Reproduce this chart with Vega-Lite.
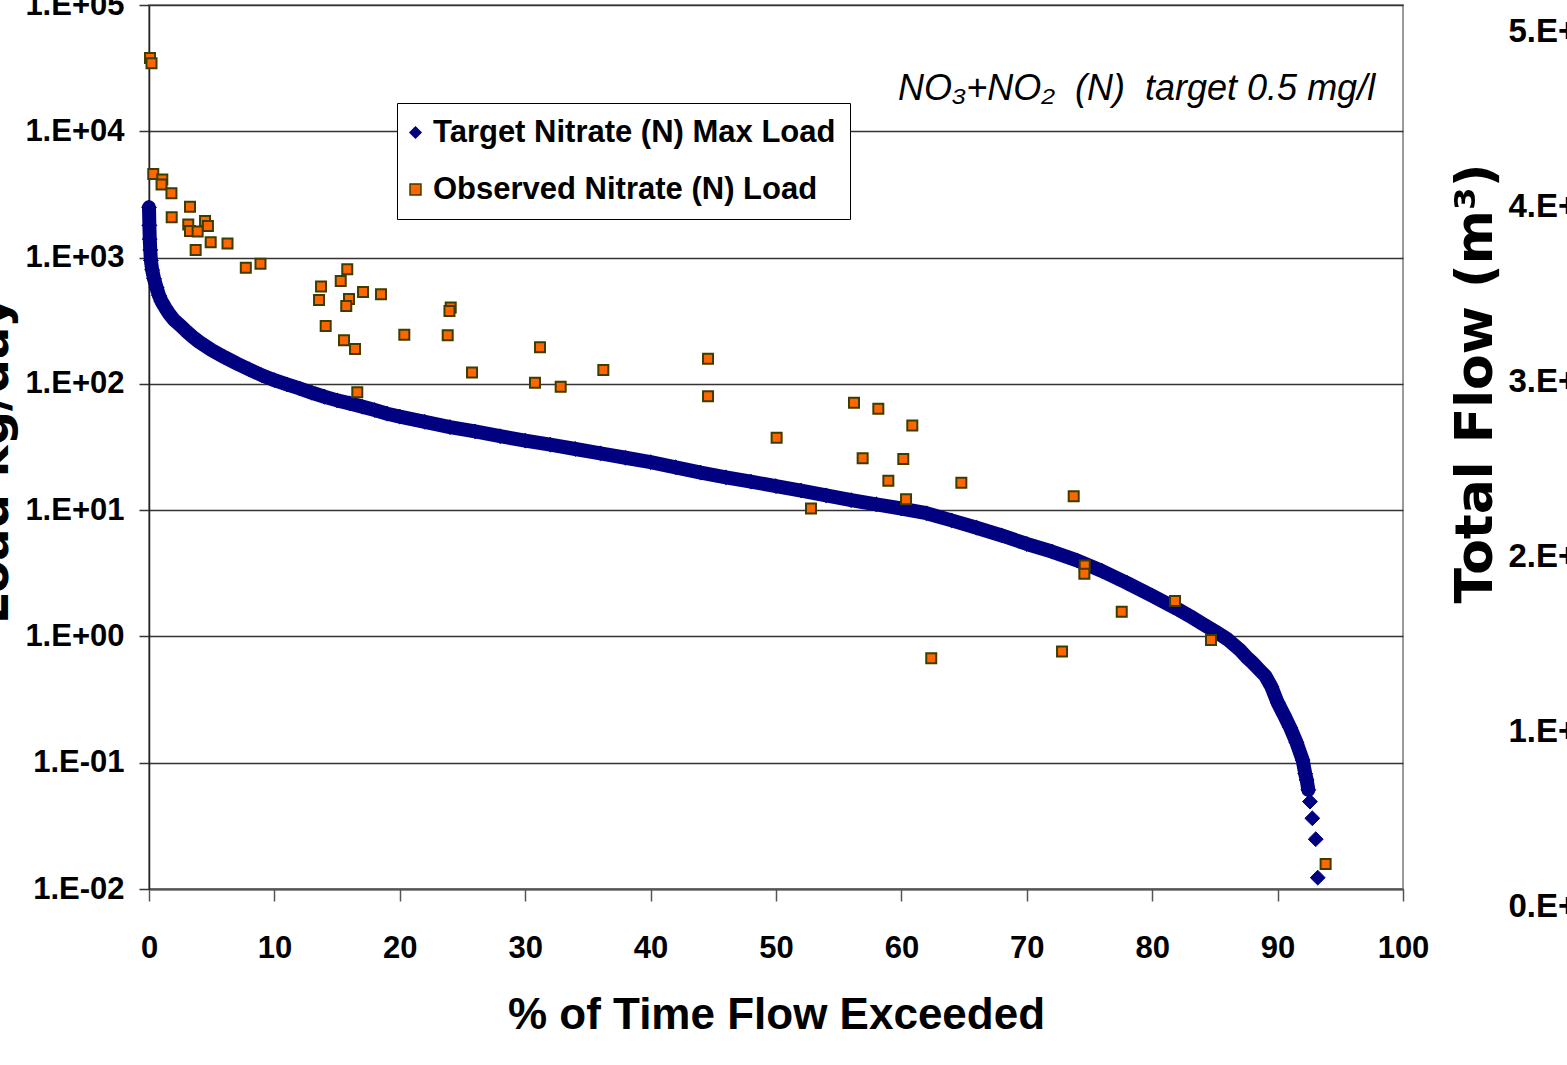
{
  "$schema": "https://vega.github.io/schema/vega-lite/v6.json",
  "width": 1254,
  "height": 884,
  "autosize": {"type": "none"},
  "padding": {"left": 149, "top": 5, "right": 164, "bottom": 176},
  "background": "white",
  "config": {
    "view": {"stroke": "#9a9a9a", "strokeWidth": 2},
    "axis": {"labelFont": "Liberation Sans", "labelFontWeight": "bold", "labelColor": "#000", "titleColor": "#000"}
  },
  "datasets": {
    "target": [
      {"pct": 0.0, "load": 2500, "series": "Target Nitrate (N) Max Load"},
      {"pct": 0.03, "load": 1800, "series": "Target Nitrate (N) Max Load"},
      {"pct": 0.06, "load": 1400, "series": "Target Nitrate (N) Max Load"},
      {"pct": 0.1, "load": 1150, "series": "Target Nitrate (N) Max Load"},
      {"pct": 0.15, "load": 950, "series": "Target Nitrate (N) Max Load"},
      {"pct": 0.25, "load": 800, "series": "Target Nitrate (N) Max Load"},
      {"pct": 0.4, "load": 680, "series": "Target Nitrate (N) Max Load"},
      {"pct": 0.6, "load": 580, "series": "Target Nitrate (N) Max Load"},
      {"pct": 0.8, "load": 500, "series": "Target Nitrate (N) Max Load"},
      {"pct": 1.0, "load": 450, "series": "Target Nitrate (N) Max Load"},
      {"pct": 1.3, "load": 400, "series": "Target Nitrate (N) Max Load"},
      {"pct": 1.6, "load": 360, "series": "Target Nitrate (N) Max Load"},
      {"pct": 2.0, "load": 320, "series": "Target Nitrate (N) Max Load"},
      {"pct": 2.5, "load": 290, "series": "Target Nitrate (N) Max Load"},
      {"pct": 3.0, "load": 260, "series": "Target Nitrate (N) Max Load"},
      {"pct": 3.5, "load": 235, "series": "Target Nitrate (N) Max Load"},
      {"pct": 4.0, "load": 215, "series": "Target Nitrate (N) Max Load"},
      {"pct": 5.0, "load": 185, "series": "Target Nitrate (N) Max Load"},
      {"pct": 6.0, "load": 163, "series": "Target Nitrate (N) Max Load"},
      {"pct": 7.0, "load": 145, "series": "Target Nitrate (N) Max Load"},
      {"pct": 8.0, "load": 130, "series": "Target Nitrate (N) Max Load"},
      {"pct": 9.0, "load": 117, "series": "Target Nitrate (N) Max Load"},
      {"pct": 10.0, "load": 107, "series": "Target Nitrate (N) Max Load"},
      {"pct": 11.0, "load": 99, "series": "Target Nitrate (N) Max Load"},
      {"pct": 12.0, "load": 92, "series": "Target Nitrate (N) Max Load"},
      {"pct": 13.0, "load": 85, "series": "Target Nitrate (N) Max Load"},
      {"pct": 14.0, "load": 79, "series": "Target Nitrate (N) Max Load"},
      {"pct": 15.0, "load": 74, "series": "Target Nitrate (N) Max Load"},
      {"pct": 16.0, "load": 70, "series": "Target Nitrate (N) Max Load"},
      {"pct": 17.0, "load": 66, "series": "Target Nitrate (N) Max Load"},
      {"pct": 18.0, "load": 62, "series": "Target Nitrate (N) Max Load"},
      {"pct": 19.0, "load": 58, "series": "Target Nitrate (N) Max Load"},
      {"pct": 20.0, "load": 55, "series": "Target Nitrate (N) Max Load"},
      {"pct": 22.0, "load": 50, "series": "Target Nitrate (N) Max Load"},
      {"pct": 24.0, "load": 45.5, "series": "Target Nitrate (N) Max Load"},
      {"pct": 26.0, "load": 42, "series": "Target Nitrate (N) Max Load"},
      {"pct": 28.0, "load": 38.5, "series": "Target Nitrate (N) Max Load"},
      {"pct": 30.0, "load": 35.5, "series": "Target Nitrate (N) Max Load"},
      {"pct": 32.0, "load": 33, "series": "Target Nitrate (N) Max Load"},
      {"pct": 34.0, "load": 30.5, "series": "Target Nitrate (N) Max Load"},
      {"pct": 36.0, "load": 28.2, "series": "Target Nitrate (N) Max Load"},
      {"pct": 38.0, "load": 26, "series": "Target Nitrate (N) Max Load"},
      {"pct": 40.0, "load": 24, "series": "Target Nitrate (N) Max Load"},
      {"pct": 42.0, "load": 21.8, "series": "Target Nitrate (N) Max Load"},
      {"pct": 44.0, "load": 19.8, "series": "Target Nitrate (N) Max Load"},
      {"pct": 46.0, "load": 18.2, "series": "Target Nitrate (N) Max Load"},
      {"pct": 48.0, "load": 16.8, "series": "Target Nitrate (N) Max Load"},
      {"pct": 50.0, "load": 15.5, "series": "Target Nitrate (N) Max Load"},
      {"pct": 52.0, "load": 14.3, "series": "Target Nitrate (N) Max Load"},
      {"pct": 54.0, "load": 13.1, "series": "Target Nitrate (N) Max Load"},
      {"pct": 56.0, "load": 12.0, "series": "Target Nitrate (N) Max Load"},
      {"pct": 58.0, "load": 11.1, "series": "Target Nitrate (N) Max Load"},
      {"pct": 60.0, "load": 10.3, "series": "Target Nitrate (N) Max Load"},
      {"pct": 62.0, "load": 9.45, "series": "Target Nitrate (N) Max Load"},
      {"pct": 64.0, "load": 8.3, "series": "Target Nitrate (N) Max Load"},
      {"pct": 66.0, "load": 7.25, "series": "Target Nitrate (N) Max Load"},
      {"pct": 68.0, "load": 6.3, "series": "Target Nitrate (N) Max Load"},
      {"pct": 70.0, "load": 5.4, "series": "Target Nitrate (N) Max Load"},
      {"pct": 72.0, "load": 4.7, "series": "Target Nitrate (N) Max Load"},
      {"pct": 74.0, "load": 4.0, "series": "Target Nitrate (N) Max Load"},
      {"pct": 76.0, "load": 3.3, "series": "Target Nitrate (N) Max Load"},
      {"pct": 78.0, "load": 2.65, "series": "Target Nitrate (N) Max Load"},
      {"pct": 80.0, "load": 2.1, "series": "Target Nitrate (N) Max Load"},
      {"pct": 82.0, "load": 1.65, "series": "Target Nitrate (N) Max Load"},
      {"pct": 83.0, "load": 1.45, "series": "Target Nitrate (N) Max Load"},
      {"pct": 84.0, "load": 1.26, "series": "Target Nitrate (N) Max Load"},
      {"pct": 85.0, "load": 1.1, "series": "Target Nitrate (N) Max Load"},
      {"pct": 86.0, "load": 0.95, "series": "Target Nitrate (N) Max Load"},
      {"pct": 87.0, "load": 0.78, "series": "Target Nitrate (N) Max Load"},
      {"pct": 87.5, "load": 0.69, "series": "Target Nitrate (N) Max Load"},
      {"pct": 88.0, "load": 0.62, "series": "Target Nitrate (N) Max Load"},
      {"pct": 88.5, "load": 0.55, "series": "Target Nitrate (N) Max Load"},
      {"pct": 89.0, "load": 0.49, "series": "Target Nitrate (N) Max Load"},
      {"pct": 89.5, "load": 0.4, "series": "Target Nitrate (N) Max Load"},
      {"pct": 90.0, "load": 0.3, "series": "Target Nitrate (N) Max Load"},
      {"pct": 90.5, "load": 0.24, "series": "Target Nitrate (N) Max Load"},
      {"pct": 91.0, "load": 0.19, "series": "Target Nitrate (N) Max Load"},
      {"pct": 91.5, "load": 0.145, "series": "Target Nitrate (N) Max Load"},
      {"pct": 92.0, "load": 0.105, "series": "Target Nitrate (N) Max Load"},
      {"pct": 92.2, "load": 0.082, "series": "Target Nitrate (N) Max Load"},
      {"pct": 92.32, "load": 0.073, "series": "Target Nitrate (N) Max Load"},
      {"pct": 92.45, "load": 0.061, "series": "Target Nitrate (N) Max Load"},
      {"pct": 92.58, "load": 0.0492, "series": "Target Nitrate (N) Max Load"},
      {"pct": 92.77, "load": 0.0363, "series": "Target Nitrate (N) Max Load"},
      {"pct": 93.04, "load": 0.0248, "series": "Target Nitrate (N) Max Load"},
      {"pct": 93.2, "load": 0.0123, "series": "Target Nitrate (N) Max Load"}
    ],
    "observed": [
      {"pct": 0.08, "load": 38000, "series": "Observed Nitrate (N) Load"},
      {"pct": 0.2, "load": 34500, "series": "Observed Nitrate (N) Load"},
      {"pct": 0.34, "load": 4590, "series": "Observed Nitrate (N) Load"},
      {"pct": 1.06, "load": 4150, "series": "Observed Nitrate (N) Load"},
      {"pct": 1.0, "load": 3790, "series": "Observed Nitrate (N) Load"},
      {"pct": 1.79, "load": 3230, "series": "Observed Nitrate (N) Load"},
      {"pct": 3.27, "load": 2530, "series": "Observed Nitrate (N) Load"},
      {"pct": 1.81, "load": 2085, "series": "Observed Nitrate (N) Load"},
      {"pct": 3.13, "load": 1830, "series": "Observed Nitrate (N) Load"},
      {"pct": 3.27, "load": 1625, "series": "Observed Nitrate (N) Load"},
      {"pct": 3.88, "load": 1610, "series": "Observed Nitrate (N) Load"},
      {"pct": 4.47, "load": 1950, "series": "Observed Nitrate (N) Load"},
      {"pct": 4.7, "load": 1780, "series": "Observed Nitrate (N) Load"},
      {"pct": 3.72, "load": 1148, "series": "Observed Nitrate (N) Load"},
      {"pct": 4.92, "load": 1321, "series": "Observed Nitrate (N) Load"},
      {"pct": 6.26, "load": 1294, "series": "Observed Nitrate (N) Load"},
      {"pct": 7.72, "load": 832, "series": "Observed Nitrate (N) Load"},
      {"pct": 8.89, "load": 893, "series": "Observed Nitrate (N) Load"},
      {"pct": 15.81, "load": 807, "series": "Observed Nitrate (N) Load"},
      {"pct": 15.29, "load": 653, "series": "Observed Nitrate (N) Load"},
      {"pct": 13.72, "load": 589, "series": "Observed Nitrate (N) Load"},
      {"pct": 13.56, "load": 462, "series": "Observed Nitrate (N) Load"},
      {"pct": 15.95, "load": 470, "series": "Observed Nitrate (N) Load"},
      {"pct": 15.73, "load": 414, "series": "Observed Nitrate (N) Load"},
      {"pct": 17.07, "load": 534, "series": "Observed Nitrate (N) Load"},
      {"pct": 18.5, "load": 512, "series": "Observed Nitrate (N) Load"},
      {"pct": 24.06, "load": 403, "series": "Observed Nitrate (N) Load"},
      {"pct": 23.96, "load": 378, "series": "Observed Nitrate (N) Load"},
      {"pct": 14.09, "load": 287, "series": "Observed Nitrate (N) Load"},
      {"pct": 15.55, "load": 221, "series": "Observed Nitrate (N) Load"},
      {"pct": 16.43, "load": 189, "series": "Observed Nitrate (N) Load"},
      {"pct": 20.36, "load": 245, "series": "Observed Nitrate (N) Load"},
      {"pct": 23.82, "load": 243, "series": "Observed Nitrate (N) Load"},
      {"pct": 25.76, "load": 123, "series": "Observed Nitrate (N) Load"},
      {"pct": 16.61, "load": 85.7, "series": "Observed Nitrate (N) Load"},
      {"pct": 31.18, "load": 195, "series": "Observed Nitrate (N) Load"},
      {"pct": 30.78, "load": 102, "series": "Observed Nitrate (N) Load"},
      {"pct": 32.83, "load": 95, "series": "Observed Nitrate (N) Load"},
      {"pct": 36.23, "load": 129, "series": "Observed Nitrate (N) Load"},
      {"pct": 44.58, "load": 158, "series": "Observed Nitrate (N) Load"},
      {"pct": 44.58, "load": 79.8, "series": "Observed Nitrate (N) Load"},
      {"pct": 50.05, "load": 37.5, "series": "Observed Nitrate (N) Load"},
      {"pct": 52.79, "load": 10.3, "series": "Observed Nitrate (N) Load"},
      {"pct": 56.22, "load": 71, "series": "Observed Nitrate (N) Load"},
      {"pct": 58.16, "load": 63.6, "series": "Observed Nitrate (N) Load"},
      {"pct": 60.87, "load": 46.7, "series": "Observed Nitrate (N) Load"},
      {"pct": 56.91, "load": 25.8, "series": "Observed Nitrate (N) Load"},
      {"pct": 60.15, "load": 25.4, "series": "Observed Nitrate (N) Load"},
      {"pct": 58.96, "load": 17.1, "series": "Observed Nitrate (N) Load"},
      {"pct": 64.78, "load": 16.5, "series": "Observed Nitrate (N) Load"},
      {"pct": 60.37, "load": 12.2, "series": "Observed Nitrate (N) Load"},
      {"pct": 73.74, "load": 12.9, "series": "Observed Nitrate (N) Load"},
      {"pct": 74.62, "load": 3.64, "series": "Observed Nitrate (N) Load"},
      {"pct": 74.59, "load": 3.13, "series": "Observed Nitrate (N) Load"},
      {"pct": 81.82, "load": 1.91, "series": "Observed Nitrate (N) Load"},
      {"pct": 77.57, "load": 1.57, "series": "Observed Nitrate (N) Load"},
      {"pct": 84.69, "load": 0.938, "series": "Observed Nitrate (N) Load"},
      {"pct": 62.38, "load": 0.671, "series": "Observed Nitrate (N) Load"},
      {"pct": 72.81, "load": 0.759, "series": "Observed Nitrate (N) Load"},
      {"pct": 93.83, "load": 0.0158, "series": "Observed Nitrate (N) Load"}
    ],
    "note": [
      {"pct": 59.73, "load": 17700, "label": "NO₃+NO₂\u00a0\u00a0(N)\u00a0\u00a0target 0.5 mg/l"}
    ],
    "flow": [
      {"flow": 0}
    ]
  },
  "layer": [
    {
      "encoding": {
        "x": {
          "field": "pct", "type": "quantitative",
          "scale": {"domain": [0, 100], "nice": false, "zero": false},
          "axis": {
            "values": [0, 10, 20, 30, 40, 50, 60, 70, 80, 90, 100],
            "title": "% of Time Flow Exceeded",
            "titleFont": "Liberation Sans", "titleFontSize": 44, "titleFontWeight": "bold",
            "titleBaseline": "alphabetic", "titleY": 139,
            "labelFontSize": 31, "labelPadding": 32, "labelFlush": false, "labelOverlap": false,
            "grid": false, "tickSize": 12, "tickColor": "#555", "tickWidth": 1.5,
            "domainColor": "#555", "domainWidth": 2
          }
        },
        "y": {
          "field": "load", "type": "quantitative",
          "scale": {"type": "log", "domain": [0.01, 100000], "nice": false},
          "axis": {
            "values": [0.01, 0.1, 1, 10, 100, 1000, 10000, 100000],
            "labelExpr": "'1.E' + (datum.value >= 1 ? '+' : '-') + '0' + abs(round(log(datum.value) / LN10))",
            "title": "Load kg/day",
            "titleFont": "DejaVu Sans", "titleFontSize": 48, "titleFontWeight": "bold",
            "titleAngle": 270, "titleBaseline": "alphabetic", "titleAlign": "center",
            "titleX": -142, "titleY": 455,
            "labelFontSize": 31, "labelPadding": 15, "labelFlush": false, "labelOverlap": false,
            "grid": true, "gridColor": "#333", "gridWidth": 1.5,
            "tickSize": 10, "tickColor": "#333", "tickWidth": 1.5,
            "domainColor": "#222", "domainWidth": 1.5
          }
        }
      },
      "layer": [
        {
          "data": {"name": "target"},
          "transform": [{"filter": "datum.pct <= 92.45"}],
          "mark": {"type": "line", "color": "#000080", "strokeWidth": 14, "strokeCap": "round", "strokeJoin": "round"},
          "encoding": {}
        },
        {
          "data": {"name": "target"},
          "mark": {"type": "point", "filled": true, "size": 220, "opacity": 1, "strokeWidth": 1},
          "encoding": {
            "color": {"field": "series", "type": "nominal",
              "scale": {"domain": ["Target Nitrate (N) Max Load", "Observed Nitrate (N) Load"], "range": ["#000080", "#FF6600"]},
              "legend": {
                "orient": "none", "legendX": 248, "legendY": 98, "title": null,
                "strokeColor": "#000", "fillColor": "#fff", "padding": 14,
                "labelFont": "Liberation Sans", "labelFontSize": 31, "labelFontWeight": "bold", "labelColor": "#000",
                "labelLimit": 0, "symbolSize": 120, "rowPadding": 25, "labelOffset": 2, "symbolOffset": -11,
                "symbolStrokeWidth": 1.5, "symbolOpacity": 1
              }},
            "shape": {"field": "series", "type": "nominal",
              "scale": {"domain": ["Target Nitrate (N) Max Load", "Observed Nitrate (N) Load"], "range": ["diamond", "square"]}},
            "stroke": {"field": "series", "type": "nominal",
              "scale": {"domain": ["Target Nitrate (N) Max Load", "Observed Nitrate (N) Load"], "range": ["#000080", "#3d3d00"]}}
          }
        },
        {
          "data": {"name": "observed"},
          "mark": {"type": "point", "filled": true, "size": 100, "opacity": 1, "strokeWidth": 2},
          "encoding": {
            "color": {"field": "series", "type": "nominal"},
            "shape": {"field": "series", "type": "nominal"},
            "stroke": {"field": "series", "type": "nominal"}
          }
        },
        {
          "data": {"name": "note"},
          "mark": {"type": "text", "align": "left", "baseline": "alphabetic", "font": "Liberation Sans", "fontStyle": "italic", "fontSize": 36, "color": "#000"},
          "encoding": {"text": {"field": "label"}}
        }
      ]
    },
    {
      "data": {"name": "flow"},
      "mark": {"type": "rule", "opacity": 0},
      "encoding": {
        "y": {
          "field": "flow", "type": "quantitative",
          "scale": {"domain": [0, 50000000], "range": [901, 26], "nice": false, "zero": false},
          "axis": {
            "orient": "right",
            "values": [0, 10000000, 20000000, 30000000, 40000000, 50000000],
            "labelExpr": "round(datum.value / 10000000) + '.E+' + (datum.value == 0 ? '00' : '07')",
            "labelFontSize": 33, "labelPadding": 105, "labelFlush": false, "labelOverlap": false,
            "ticks": false, "tickSize": 0, "domain": false, "grid": false,
            "title": "Total Flow (m³)",
            "titleFont": "DejaVu Sans", "titleFontSize": 52, "titleFontWeight": "bold",
            "titleAngle": 270, "titleBaseline": "alphabetic", "titleAlign": "center",
            "titleX": 88, "titleY": 378
          }
        }
      }
    }
  ],
  "resolve": {"scale": {"y": "independent"}}
}
